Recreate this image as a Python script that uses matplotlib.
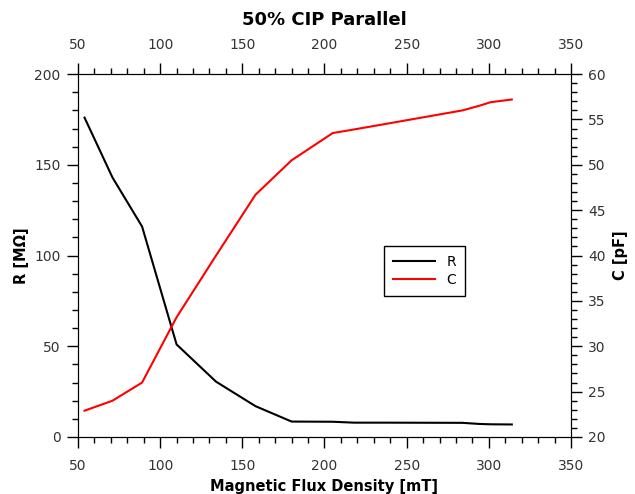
import matplotlib
matplotlib.use("Agg")
import matplotlib.pyplot as plt
from matplotlib.ticker import MultipleLocator

flux = [54, 71, 89, 110, 134, 158, 180, 205, 218, 237, 284, 294, 301, 314]
resistance = [176, 143, 116, 51, 30.5, 17, 8.5, 8.4, 7.9, 7.9, 7.8, 7.2, 7.0, 6.9]   # MOhm
capacitance = [22.9, 24.0, 26.0, 33.2, 40.0, 46.7, 50.5, 53.5, 53.9, 54.5,
               56.0, 56.5, 56.9, 57.2]   # pF

fig = plt.figure(figsize=(6.35, 4.94), dpi=100)
ax = fig.add_axes([0.1228, 0.1154, 0.7764, 0.7346])
ax2 = ax.twinx()

lr, = ax.plot(flux, resistance, color="black", lw=1.5, label="R")
lc, = ax2.plot(flux, capacitance, color="red", lw=1.5, label="C")

ax.set_xlim(50, 350)
ax.set_ylim(0, 200)
ax2.set_ylim(20, 60)

ax.xaxis.set_major_locator(MultipleLocator(50))
ax.xaxis.set_minor_locator(MultipleLocator(10))
ax.yaxis.set_major_locator(MultipleLocator(50))
ax.yaxis.set_minor_locator(MultipleLocator(10))
ax2.yaxis.set_major_locator(MultipleLocator(5))
ax2.yaxis.set_minor_locator(MultipleLocator(1))

tick_col = "#333333"
for a in (ax, ax2):
    a.tick_params(which="both", direction="out", labelsize=10, labelcolor=tick_col)
    a.tick_params(which="major", length=8, width=1)
    a.tick_params(which="minor", length=4.3, width=1)
    a.tick_params(axis="y", pad=4.5)
ax.tick_params(axis="x", which="both", top=True, labeltop=True, pad=8)

ax.set_xlabel("Magnetic Flux Density [mT]", fontweight="bold", fontsize=10.5)
ax.set_ylabel("R [M\u03a9]", fontweight="bold", fontsize=10.5)
ax2.set_ylabel("C [pF]", fontweight="bold", fontsize=10.5, labelpad=5)
ax.set_title("50% CIP Parallel", fontweight="bold", fontsize=13, pad=9)

leg = ax2.legend(handles=[lr, lc], loc="center", bbox_to_anchor=(0.703, 0.458),
                 fancybox=False, framealpha=1, edgecolor="black",
                 handlelength=3.0, handletextpad=0.85, borderpad=0.65,
                 labelspacing=0.3, fontsize=10)
leg.get_frame().set_linewidth(1)

fig.savefig("out.png", dpi=100)
